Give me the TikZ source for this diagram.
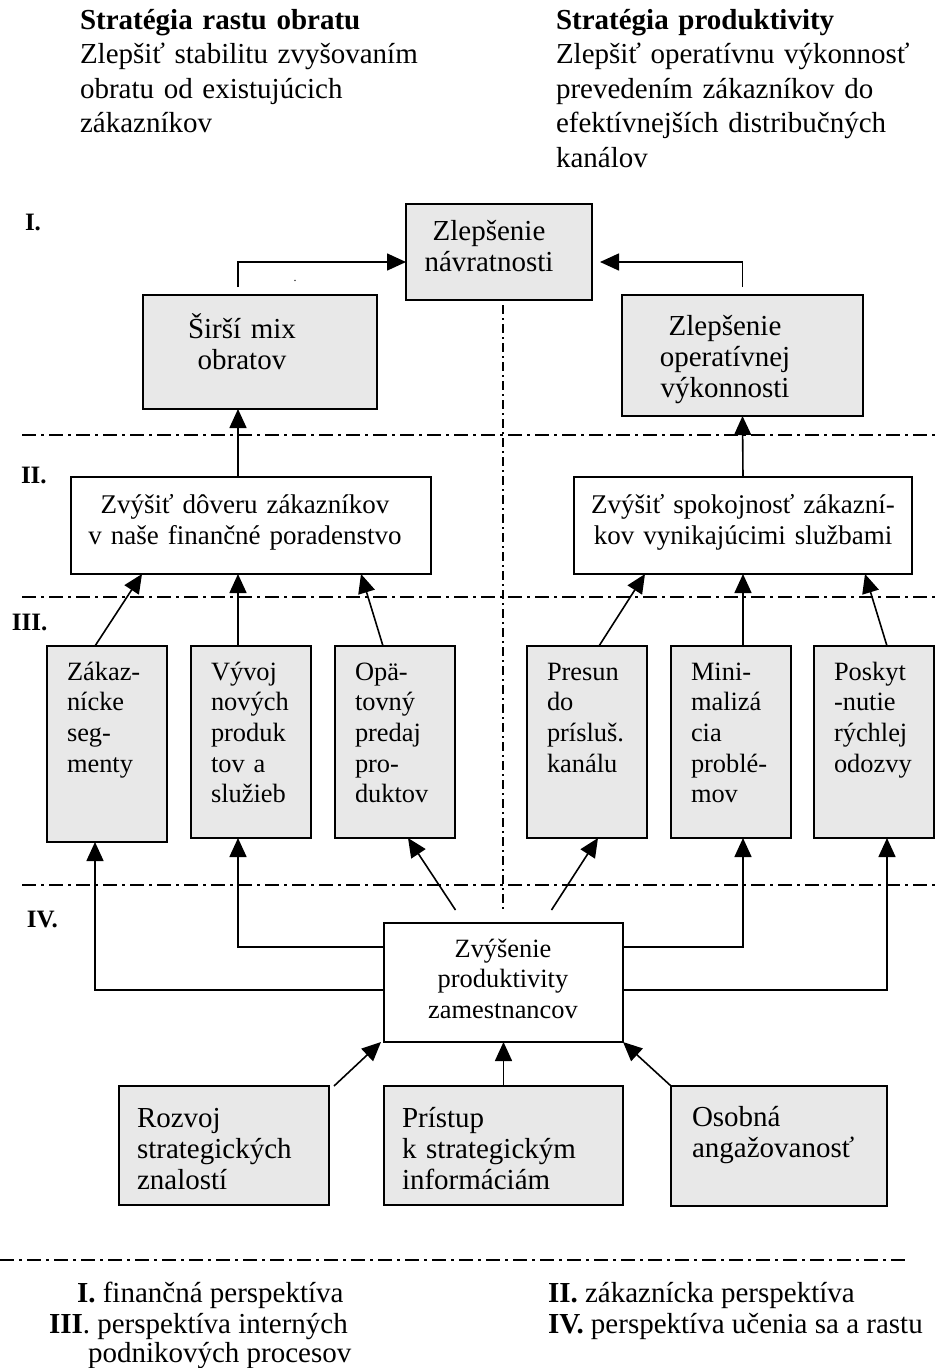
\documentclass[tikz,border=0pt]{standalone}
\usepackage{fontspec}
\setmainfont{Liberation Serif}
\usetikzlibrary{arrows.meta}
\definecolor{svetlosiva}{gray}{0.91}
\newcommand{\hpis}{\fontsize{29}{34.5}\selectfont}
\newcommand{\vpis}{\fontsize{29}{31}\selectfont}
\newcommand{\spis}{\fontsize{27}{31}\selectfont}
\newcommand{\mpis}{\fontsize{26.4}{30.7}\selectfont}
\newcommand{\lpis}{\fontsize{25}{30}\selectfont\bfseries}
\tikzset{
  ram/.style={draw, line width=1.8pt, anchor=north west, inner sep=0pt, outer sep=0pt},
  sedy/.style={ram, fill=svetlosiva},
  biely/.style={ram, fill=white},
  popis/.style={inner sep=0pt, outer sep=0pt},
  sipka/.style={line width=1.6pt, -{Triangle[length=19pt,width=17pt]}},
  ciara/.style={line width=1.4pt, dash pattern=on 14pt off 5pt on 3pt off 5pt},
  zvisla/.style={line width=1.2pt, dash pattern=on 9pt off 4pt on 2pt off 4pt}
}

\begin{document}
\begin{tikzpicture}[x=1pt,y=-1pt]
  \useasboundingbox (0,0) rectangle (935,1368);

  \node[popis, anchor=base west, text width=420pt, align=left, font=\hpis] (hlavaL) at (80,29)
    {\textbf{Stratégia rastu obratu}\\Zlepšiť stabilitu zvyšovaním\\obratu od existujúcich\\zákazníkov};
  \node[popis, anchor=base west, text width=375pt, align=left, font=\hpis] (hlavaP) at (556,29)
    {\textbf{Stratégia produktivity}\\Zlepšiť operatívnu výkonnosť\\prevedením zákazníkov do\\efektívnejších distribučných\\kanálov};

  \draw[ciara] (22,435) -- (935,435);
  \draw[ciara] (22,597) -- (935,597);
  \draw[ciara] (22,885) -- (935,885);
  \draw[ciara] (0,1260) -- (907,1260);
  \draw[zvisla] (503,305) -- (503,910);

  \node[popis, anchor=base west, font=\lpis] (uroven1) at (25,230) {I.};
  \node[popis, anchor=base west, font=\lpis] (uroven2) at (21,483) {II.};
  \node[popis, anchor=base west, font=\lpis] (uroven3) at (12,630) {III.};
  \node[popis, anchor=base west, font=\lpis] (uroven4) at (27,927) {IV.};

  \node[sedy, minimum width=186pt, minimum height=96pt] (navrat) at (406,204) {};
  \node[sedy, minimum width=234pt, minimum height=114pt] (mix) at (143,295) {};
  \node[sedy, minimum width=241pt, minimum height=121pt] (vykon) at (622,295) {};
  \node[popis, anchor=base, text width=150pt, align=center, font=\vpis] (navratT) at (489,240) {Zlepšenie\\návratnosti};
  \node[popis, anchor=base, text width=150pt, align=center, font=\vpis] (mixT) at (242,338) {Širší mix\\obratov};
  \node[popis, anchor=base, text width=170pt, align=center, font=\vpis] (vykonT) at (725,335) {Zlepšenie\\operatívnej\\výkonnosti};
  \node[popis, font=\fontsize{12}{12}\selectfont] (bodka) at (295,281) {.};

  \node[biely, minimum width=360pt, minimum height=97pt] (dovera) at (71,477) {};
  \node[biely, minimum width=338pt, minimum height=97pt] (spokoj) at (574,477) {};
  \node[popis, anchor=base, text width=340pt, align=center, font=\spis] (doveraT) at (245,513) {Zvýšiť dôveru zákazníkov\\v naše finančné poradenstvo};
  \node[popis, anchor=base, text width=330pt, align=center, font=\spis] (spokojT) at (743,513) {Zvýšiť spokojnosť zákazní-\\kov vynikajúcimi službami};

  \node[sedy, minimum width=120pt, minimum height=196pt] (segment) at (47,646) {};
  \node[sedy, minimum width=120pt, minimum height=192pt] (vyvoj) at (191,646) {};
  \node[sedy, minimum width=120pt, minimum height=192pt] (opat) at (335,646) {};
  \node[sedy, minimum width=120pt, minimum height=192pt] (presun) at (527,646) {};
  \node[sedy, minimum width=120pt, minimum height=192pt] (minim) at (671,646) {};
  \node[sedy, minimum width=120pt, minimum height=192pt] (poskyt) at (814,646) {};
  \node[popis, anchor=base west, text width=110pt, align=left, font=\mpis] (segmentT) at (67,680) {Zákaz-\\nícke\\seg-\\menty};
  \node[popis, anchor=base west, text width=110pt, align=left, font=\mpis] (vyvojT) at (211,680) {Vývoj\\nových\\produk\\tov a\\služieb};
  \node[popis, anchor=base west, text width=110pt, align=left, font=\mpis] (opatT) at (355,680) {Opä-\\tovný\\predaj\\pro-\\duktov};
  \node[popis, anchor=base west, text width=110pt, align=left, font=\mpis] (presunT) at (547,680) {Presun\\do\\prísluš.\\kanálu};
  \node[popis, anchor=base west, text width=110pt, align=left, font=\mpis] (minimT) at (691,680) {Mini-\\malizá\\cia\\problé-\\mov};
  \node[popis, anchor=base west, text width=95pt, align=left, font=\mpis] (poskytT) at (834,680) {Poskyt\\-nutie\\rýchlej\\odozvy};

  \node[biely, minimum width=239pt, minimum height=119pt] (zvys) at (384,923) {};
  \node[popis, anchor=base, text width=220pt, align=center, font=\mpis] (zvysT) at (503,957) {Zvýšenie\\produktivity\\zamestnancov};

  \node[sedy, minimum width=210pt, minimum height=119pt] (rozvoj) at (119,1086) {};
  \node[sedy, minimum width=239pt, minimum height=119pt] (pristup) at (384,1086) {};
  \node[sedy, minimum width=216pt, minimum height=120pt] (osobna) at (671,1086) {};
  \node[popis, anchor=base west, text width=190pt, align=left, font=\vpis] (rozvojT) at (137,1127) {Rozvoj\\strategických\\znalostí};
  \node[popis, anchor=base west, text width=215pt, align=left, font=\vpis] (pristupT) at (402,1127) {Prístup\\k strategickým\\informáciám};
  \node[popis, anchor=base west, text width=190pt, align=left, font=\vpis] (osobnaT) at (692,1126) {Osobná\\angažovanosť};

  \draw[sipka] ([xshift=-22pt,yshift=8pt]mix.north) |- ([yshift=-10pt]navrat.west);
  \draw[sipka] ([yshift=8pt]vykon.north) |- ([xshift=8pt,yshift=-10pt]navrat.east);
  \draw[sipka] ([xshift=-13pt]dovera.north) -- ([xshift=-22pt]mix.south);
  \draw[sipka] (spokoj.north) -- (vykon.south);

  \draw[sipka] ([xshift=-12pt]segment.north) -- ([xshift=-109pt]dovera.south);
  \draw[sipka] ([xshift=-13pt]vyvoj.north) -- ([xshift=-13pt]dovera.south);
  \draw[sipka] ([xshift=-12pt]opat.north) -- ([xshift=110pt]dovera.south);
  \draw[sipka] ([xshift=12pt]presun.north) -- ([xshift=-98pt]spokoj.south);
  \draw[sipka] ([xshift=12pt]minim.north) -- (spokoj.south);
  \draw[sipka] ([xshift=13pt]poskyt.north) -- ([xshift=122pt]spokoj.south);

  \draw[sipka] ([yshift=-7.5pt]zvys.west) -| ([xshift=-12pt]segment.south);
  \draw[sipka] ([yshift=35.5pt]zvys.west) -| ([xshift=-13pt]vyvoj.south);
  \draw[sipka] ([xshift=-48pt,yshift=13pt]zvys.north) -- ([xshift=13pt]opat.south);
  \draw[sipka] ([xshift=48pt,yshift=13pt]zvys.north) -- ([xshift=11pt]presun.south);
  \draw[sipka] ([yshift=35.5pt]zvys.east) -| ([xshift=12pt]minim.south);
  \draw[sipka] ([yshift=-7.5pt]zvys.east) -| ([xshift=13pt]poskyt.south);

  \draw[sipka] ([xshift=5pt]rozvoj.north east) -- ([xshift=-3pt]zvys.south west);
  \draw[sipka] (pristup.north) -- (zvys.south);
  \draw[sipka] (osobna.north west) -- (zvys.south east);

  \node[popis, anchor=base west, font=\vpis] (legenda1) at (77,1302) {\textbf{I.} finančná perspektíva};
  \node[popis, anchor=base west, font=\vpis] (legenda3) at (49,1333) {\textbf{III}. perspektíva interných};
  \node[popis, anchor=base west, font=\vpis] (legenda3b) at (88,1362) {podnikových procesov};
  \node[popis, anchor=base west, font=\vpis] (legenda2) at (548,1302) {\textbf{II.} zákaznícka perspektíva};
  \node[popis, anchor=base west, font=\vpis] (legenda4) at (548,1333) {\textbf{IV.} perspektíva učenia sa a rastu};
\end{tikzpicture}
\end{document}
